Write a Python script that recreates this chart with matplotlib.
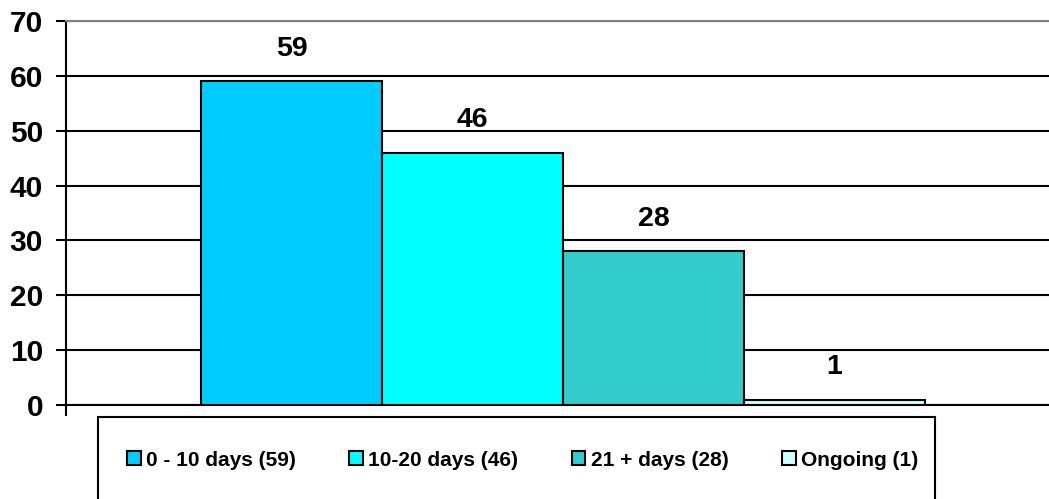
import matplotlib
matplotlib.use("Agg")
import matplotlib.pyplot as plt
from matplotlib.patches import Rectangle

# Duration groups and counts
categories = ["0 - 10 days (59)", "10-20 days (46)", "21 + days (28)", "Ongoing (1)"]
values = [59, 46, 28, 1]
colors = ["#00CCFF", "#00FFFF", "#33CCCC", "#CCFFFF"]
yticks = [0, 10, 20, 30, 40, 50, 60, 70]

plt.rcParams["font.family"] = ["Liberation Sans", "DejaVu Sans"]
plt.rcParams["font.weight"] = "bold"

W, H = 1049, 499
fig = plt.figure(figsize=(W / 100, H / 100), dpi=100)
ax = fig.add_axes([66 / W, 1 - 405 / H, (W - 66) / W, (405 - 21) / H])

xs = list(range(len(values)))
bars = ax.bar(xs, values, width=1.0, color=colors, edgecolor="black",
              linewidth=1.5, label=categories, zorder=3)

for x, v in zip(xs, values):
    ax.annotate(str(v), (x, v), xytext=(0, 14), textcoords="offset points",
                ha="center", va="bottom", fontsize=20.5, fontweight="bold")

ax.set_ylim(0, 70)
ax.set_xlim(-1.246, 4.185)
ax.set_yticks(yticks)
ax.set_yticklabels([str(t) for t in yticks], fontsize=21.5, fontweight="bold")
ax.yaxis.grid(True, color="black", linewidth=1.5, zorder=0)
ax.set_axisbelow(True)
ax.tick_params(axis="y", length=7.5, width=1.5, color="black", pad=9)
ax.set_xticks([-1.246])
ax.set_xticklabels([""])
ax.tick_params(axis="x", length=8, width=1.5, color="black")

ax.spines["right"].set_visible(False)
ax.spines["top"].set_color("#808080")
ax.spines["top"].set_linewidth(1.5)
ax.spines["left"].set_linewidth(1.5)
ax.spines["bottom"].set_linewidth(1.5)

# Legend frame running off the bottom edge
fig.patches.append(Rectangle((98 / W, -0.05), (935 - 98) / W, 0.05 + (1 - 417 / H),
                             transform=fig.transFigure, facecolor="white",
                             edgecolor="black", linewidth=1.5))

fig.legend(handles=bars, labels=categories, ncol=4, frameon=False,
           loc="center left", bbox_to_anchor=(127 / W, 1 - 460 / H),
           fontsize=15, handlelength=0.65, handleheight=0.65,
           handletextpad=0.25, columnspacing=2.58, borderpad=0, borderaxespad=0)

fig.savefig("out.png", dpi=100)
